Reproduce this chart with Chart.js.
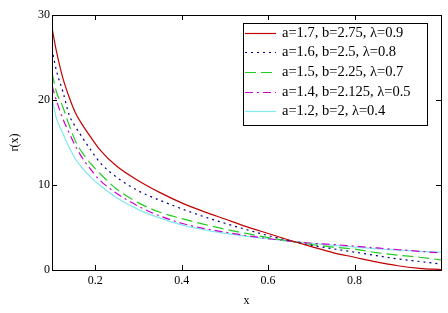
<!DOCTYPE html>
<html>
<head>
<meta charset="utf-8">
<script src="https://cdn.jsdelivr.net/npm/chart.js@4.4.0/dist/chart.umd.min.js"></script>
<style>
  html, body { margin: 0; padding: 0; background: #fff; }
  #wrap { width: 448px; height: 313px; }
</style>
</head>
<body>
<div id="wrap"><canvas id="hazard-chart"></canvas></div>
<script>
const xVals = [0.1, 0.11, 0.125, 0.14, 0.155, 0.17, 0.19, 0.21, 0.25, 0.3, 0.35, 0.4, 0.45, 0.5, 0.55, 0.6, 0.65, 0.7, 0.75, 0.8, 0.85, 0.9, 0.95, 1.0];

const seriesA = [28.5, 25.8, 22.6, 20.3, 18.4, 17.1, 15.6, 14.2, 12.2, 10.5, 9.1, 7.9, 6.9, 6.0, 5.1, 4.3, 3.5, 2.75, 2.05, 1.5, 0.95, 0.5, 0.2, 0.05];
const seriesB = [26.0, 23.5, 21.0, 18.2, 16.8, 15.6, 14.1, 12.7, 10.9, 9.3, 8.2, 7.2, 6.3, 5.5, 4.75, 4.05, 3.45, 2.9, 2.5, 2.1, 1.7, 1.3, 1.0, 0.7];
const seriesC = [23.2, 21.0, 19.2, 17.0, 15.1, 13.8, 12.5, 11.4, 9.5, 7.9, 6.8, 6.05, 5.4, 4.8, 4.3, 3.8, 3.4, 3.0, 2.7, 2.45, 2.05, 1.75, 1.5, 1.2];
const seriesD = [21.7, 20.0, 17.8, 16.1, 14.5, 13.2, 11.8, 10.6, 9.0, 7.5, 6.35, 5.5, 4.9, 4.45, 4.05, 3.7, 3.4, 3.15, 3.0, 2.8, 2.6, 2.4, 2.2, 2.0];
const seriesE = [20.2, 17.9, 16.1, 14.4, 13.0, 12.0, 10.9, 10.0, 8.5, 7.1, 6.1, 5.3, 4.75, 4.3, 3.95, 3.65, 3.4, 3.15, 2.9, 2.7, 2.5, 2.35, 2.2, 2.1];

const seriesNames = [
  'a=1.7, b=2.75, \u03bb=0.9',
  'a=1.6, b=2.5, \u03bb=0.8',
  'a=1.5, b=2.25, \u03bb=0.7',
  'a=1.4, b=2.125, \u03bb=0.5',
  'a=1.2, b=2, \u03bb=0.4'
];

const xTicks = [0.2, 0.4, 0.6, 0.8];
const yTicks = [0, 10, 20, 30];

const FONT = 'Liberation Serif';

function toPoints(ys) {
  return xVals.map((x, i) => ({ x: x, y: ys[i] }));
}

const styles = [
  { color: '#c00000', dash: [] },
  { color: '#000080', dash: [2, 4] },
  { color: '#22cc22', dash: [11, 5] },
  { color: '#cc00cc', dash: [8, 4, 2, 4] },
  { color: '#80e8f0', dash: [] }
];

const allSeries = [seriesA, seriesB, seriesC, seriesD, seriesE];

let datasets = [];
for (i = 0; i < allSeries.length; i++) {
  datasets.push({
    label: seriesNames[i],
    data: toPoints(allSeries[i]),
    borderColor: styles[i].color,
    borderDash: styles[i].dash,
    borderWidth: 1.2,
    pointRadius: 0,
    fill: false,
    cubicInterpolationMode: 'monotone'
  });
}

// frame with inward ticks on all four sides, like the original plot
const framePlugin = {
  id: 'frame',
  afterDatasetsDraw(chart) {
    const ctx = chart.ctx;
    const a = chart.chartArea;
    const xs = chart.scales.x, ys = chart.scales.y;
    ctx.save();
    ctx.strokeStyle = '#000';
    ctx.lineWidth = 1;
    ctx.setLineDash([]);
    ctx.strokeRect(Math.round(a.left) + 0.5, Math.round(a.top) + 0.5,
                   Math.round(a.right - a.left), Math.round(a.bottom - a.top));
    ctx.beginPath();
    xTicks.forEach(v => {
      const px = Math.round(xs.getPixelForValue(v)) + 0.5;
      ctx.moveTo(px, a.bottom); ctx.lineTo(px, a.bottom - 5);
      ctx.moveTo(px, a.top); ctx.lineTo(px, a.top + 5);
    });
    [10, 20].forEach(v => {
      const py = Math.round(ys.getPixelForValue(v)) + 0.5;
      ctx.moveTo(a.left, py); ctx.lineTo(a.left + 5, py);
      ctx.moveTo(a.right, py); ctx.lineTo(a.right - 5, py);
    });
    ctx.stroke();
    ctx.restore();
  }
};

// boxed legend inside the plot, top right
const boxLegend = {
  id: 'boxLegend',
  afterDraw(chart) {
    const ctx = chart.ctx;
    const left = 243, top = 23, w = 184, h = 102;
    const rowH = 19.7;
    ctx.save();
    ctx.fillStyle = '#fff';
    ctx.fillRect(left, top, w, h);
    ctx.strokeStyle = '#000';
    ctx.lineWidth = 1;
    ctx.strokeRect(left + 0.5, top + 0.5, w, h);
    ctx.font = '14.5px "' + FONT + '"';
    ctx.textBaseline = 'middle';
    chart.data.datasets.forEach((ds, i) => {
      const y = Math.round(top + 9.5 + i * rowH) + 0.5;
      ctx.strokeStyle = ds.borderColor;
      ctx.lineWidth = 1.2;
      ctx.setLineDash(ds.borderDash);
      ctx.beginPath();
      ctx.moveTo(245, y);
      ctx.lineTo(276, y);
      ctx.stroke();
      ctx.setLineDash([]);
      ctx.fillStyle = '#000';
      ctx.fillText(ds.label, 282, y);
    });
    ctx.restore();
  }
};

const ctx = document.getElementById('hazard-chart').getContext('2d');

const chart = new Chart(ctx, {
  type: 'line',
  plugins: [framePlugin, boxLegend],
  data: { datasets: datasets },
  options: {
    responsive: true,
    maintainAspectRatio: false,
    animation: false,
    layout: { padding: { left: 0, right: 7, top: 15, bottom: 0 } },
    scales: {
      x: {
        type: 'linear',
        min: 0.1,
        max: 1.0,
        afterBuildTicks: s => { s.ticks = xTicks.map(v => ({ value: v })); },
        afterFit: s => { s.height = 43; },
        grid: { display: false, drawTicks: false },
        border: { display: false },
        ticks: {
          color: '#000',
          padding: 4,
          maxRotation: 0,
          font: { family: FONT, size: 12 },
          callback: v => v.toFixed(1)
        },
        title: {
          display: true,
          text: 'x',
          color: '#000',
          padding: { top: 0, bottom: 5 },
          font: { family: FONT, size: 12 }
        }
      },
      y: {
        min: 0,
        max: 30,
        afterBuildTicks: s => { s.ticks = yTicks.map(v => ({ value: v })); },
        afterFit: s => { s.width = 52; },
        grid: { display: false, drawTicks: false },
        border: { display: false },
        ticks: {
          color: '#000',
          padding: 2,
          font: { family: FONT, size: 12 }
        },
        title: {
          display: true,
          text: 'r(x)',
          color: '#000',
          padding: { top: 8, bottom: 0 },
          font: { family: FONT, size: 12 }
        }
      }
    },
    plugins: {
      legend: { display: false },
      tooltip: { enabled: false }
    }
  }
});
</script>
</body>
</html>
